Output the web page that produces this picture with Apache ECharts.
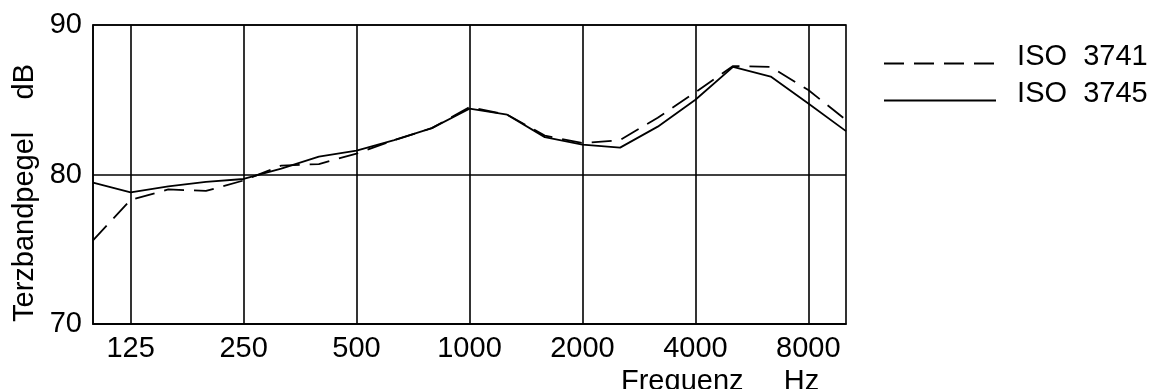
<!DOCTYPE html>
<html>
<head>
<meta charset="utf-8">
<script src="https://cdn.jsdelivr.net/npm/echarts@6/dist/echarts.min.js"></script>
<style>
  html, body { margin: 0; padding: 0; background: #fff; }
  #chart { width: 1157px; height: 389px; }
</style>
</head>
<body>
<div id="chart"></div>
<script>
// third-octave band centre frequencies (Hz)
const bands = ['100', '125', '160', '200', '250', '315', '400', '500', '630', '800', '1000',
  '1250', '1600', '2000', '2500', '3150', '4000', '5000', '6300', '8000', '10000'];
// octave labels shown on the x axis
const tickLabels = ['125', '250', '500', '1000', '2000', '4000', '8000'];

const iso3741 = [75.6, 78.3, 79.0, 78.9, 79.6, 80.6, 80.7, 81.4, 82.3, 83.1, 84.5,
  84.0, 82.6, 82.1, 82.3, 83.8, 85.5, 87.25, 87.2, 85.65, 83.65];
const iso3745 = [79.45, 78.8, 79.2, 79.5, 79.7, 80.4, 81.2, 81.6, 82.3, 83.1, 84.4,
  84.0, 82.5, 82.0, 81.8, 83.2, 85.0, 87.2, 86.55, 84.75, 82.9];

const FONT = 'Liberation Sans';
const isTick = (i, v) => tickLabels.indexOf(v) >= 0;

const chart = echarts.init(document.getElementById('chart'));
const option = {
  backgroundColor: '#fff',
  animation: false,
  textStyle: { fontFamily: FONT, color: '#000' },
  grid: {
    left: 93, right: 311, top: 25, bottom: 65,
    show: true, borderColor: '#000', borderWidth: 1.6
  },
  legend: {
    orient: 'vertical',
    left: 883,
    top: 42,
    padding: 0,
    itemWidth: 112,
    itemHeight: 14,
    itemGap: 3,
    itemStyle: { opacity: 0 },
    // empty second line lifts the label above the line sample
    formatter: name => '{t|  ' + name + '}\n{s| }',
    textStyle: {
      fontFamily: FONT, color: '#000',
      rich: {
        t: { fontFamily: FONT, fontSize: 29, lineHeight: 24, color: '#000' },
        s: { fontSize: 1, lineHeight: 14 }
      }
    }
  },
  xAxis: {
    type: 'category',
    data: bands,
    boundaryGap: false,
    axisLine: { lineStyle: { color: '#000', width: 1.6 } },
    axisTick: { show: false },
    axisLabel: {
      interval: isTick,
      margin: 10,
      fontSize: 29,
      color: '#000',
      fontFamily: FONT
    },
    splitLine: {
      show: true,
      interval: isTick,
      lineStyle: { color: '#000', width: 1.6 }
    }
  },
  yAxis: {
    type: 'value',
    min: 70,
    max: 90,
    interval: 10,
    axisLine: { show: true, lineStyle: { color: '#000', width: 1.6 } },
    axisTick: { show: false },
    axisLabel: { margin: 11, fontSize: 29, color: '#000', fontFamily: FONT },
    splitLine: { show: true, lineStyle: { color: '#000', width: 1.6 } }
  },
  graphic: [
    {
      type: 'text',
      x: 25, y: 193,
      rotation: Math.PI / 2,
      style: {
        text: 'Terzbandpegel    dB',
        font: '29px "' + FONT + '"',
        fill: '#000',
        textAlign: 'center',
        textVerticalAlign: 'middle'
      }
    },
    {
      type: 'text',
      x: 621, y: 367,
      style: {
        text: 'Frequenz     Hz',
        font: '29px "' + FONT + '"',
        fill: '#000',
        textAlign: 'left',
        textVerticalAlign: 'top'
      }
    }
  ],
  series: [
    {
      name: 'ISO  3741',
      type: 'line',
      data: iso3741,
      symbol: 'none',
      lineStyle: { color: '#000', width: 1.8, type: [20, 10] },
      itemStyle: { color: '#000' }
    },
    {
      name: 'ISO  3745',
      type: 'line',
      data: iso3745,
      symbol: 'none',
      lineStyle: { color: '#000', width: 1.8 },
      itemStyle: { color: '#000' }
    }
  ]
};
chart.setOption(option);
</script>
</body>
</html>
